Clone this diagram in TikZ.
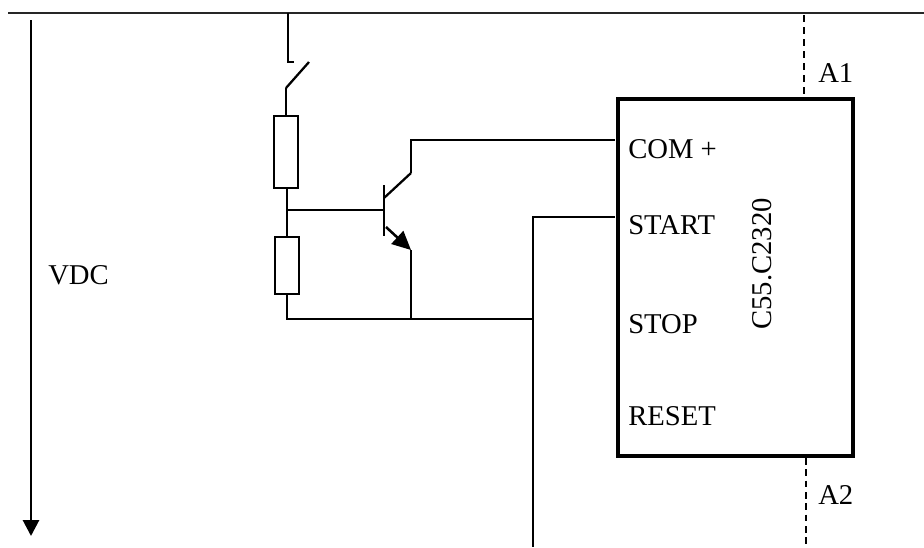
\documentclass[tikz,border=0pt]{standalone}
\usepackage{fontspec}
\setmainfont{Liberation Serif}
\usetikzlibrary{positioning, arrows.meta}

\begin{document}
\begin{tikzpicture}[x=0.75pt,y=-0.75pt]
    % Define the styles for the wires, resistors and labels
    \tikzstyle{wire}=[line width=1.7pt, black];
    \tikzstyle{resistor}=[draw, line width=1.7pt, black, inner sep=0pt, minimum width=18pt];
    \tikzstyle{label text}=[font=\fontsize{21.5}{25}\selectfont, inner sep=0pt];

    \useasboundingbox (0,0) rectangle (924,547);

    % Define the coordinates for the supply line
    \coordinate (railL) at (8,12.5);
    \coordinate (railR) at (924,12.5);
    \coordinate (railS) at (288,12.5);
    \coordinate (railA) at (805,15);

    % Draw the supply line and the voltage arrow
    \draw[line width=1.5pt, black!85] (railL) -- (railR);
    \coordinate (vdcT) at (31,20);
    \coordinate (vdcB) at (31,536);
    \draw[line width=2.2pt, -{Triangle[length=12pt,width=12pt]}] (vdcT) -- (vdcB);
    \node[label text, anchor=base west] (vdc) at (48,284) {VDC};

    % Draw the switch
    \coordinate (swT) at (288,62);
    \coordinate (swE) at (294,62);
    \coordinate (swB) at (286,88);
    \coordinate (swO) at (309,62);
    \draw[wire] (railS) -- (swT) -- (swE);
    \draw[wire] (swO) -- (swB);

    % Draw the resistors
    \node[resistor, minimum height=54pt] (r1) at (286,152) {};
    \node[resistor, minimum height=43pt] (r2) at (287,265.5) {};
    \draw[wire] (swB) -- (r1.north);
    \draw[wire] (r1.south -| r2.north) -- (r2.north);

    % Draw the transistor
    \coordinate (base) at (287,210);
    \coordinate (barT) at (384,185);
    \coordinate (barB) at (384,236);
    \coordinate (baseI) at (384,210);
    \coordinate (colI) at (384,198);
    \coordinate (colK) at (411,173);
    \coordinate (emI) at (386,227);
    \coordinate (emK) at (411,250);
    \coordinate (gnd) at (411,319);
    \coordinate (gndL) at (287,319);
    \draw[wire] (base) -- (baseI);
    \draw[wire] (barT) -- (barB);
    \draw[wire] (colI) -- (colK);
    \draw[wire, line width=1.9pt, -{Triangle[length=14pt,width=13pt]}] (emI) -- (emK);
    \draw[line width=1.9pt, black] (emK) -- (gnd);

    % Draw the relay block
    \node[draw, line width=3.2pt, minimum width=176.25pt, minimum height=267.75pt, inner sep=0pt] (relay) at (735.5,277.5) {};
    \node[label text, anchor=base west] (com) at (628,158) {COM +};
    \node[label text, anchor=base west] (start) at (628,234.5) {START};
    \node[label text, anchor=base west] (stop) at (628,333.5) {STOP};
    \node[label text, anchor=base west] (reset) at (628,425) {RESET};
    \node[label text, rotate=90, anchor=base] (type) at (771,264) {C55.C2320};

    % Connect the transistor to the block
    \coordinate (comK) at (411,140);
    \coordinate (comE) at (615,140);
    \coordinate (startE) at (615,217);
    \coordinate (startK) at (533,217);
    \coordinate (bus) at (533,319);
    \coordinate (busB) at (533,547);
    \draw[wire] (colK) -- (comK) -- (comE);
    \draw[wire] (startE) -- (startK) -- (busB);
    \draw[wire] (r2.south) -- (gndL) -- (gnd) -- (bus);

    % Draw the coil connections
    \coordinate (a1B) at (804,94);
    \coordinate (a2T) at (806,458);
    \coordinate (a2B) at (806,547);
    \draw[line width=1.9pt, dash pattern=on 5pt off 4pt] (railA -| a1B) -- (a1B);
    \draw[line width=1.6pt, dash pattern=on 5pt off 3.5pt] (a2T) -- (a2B);
    \node[label text, anchor=base west] (a1) at (818,82) {A1};
    \node[label text, anchor=base west] (a2) at (818,504) {A2};
\end{tikzpicture}
\end{document}
